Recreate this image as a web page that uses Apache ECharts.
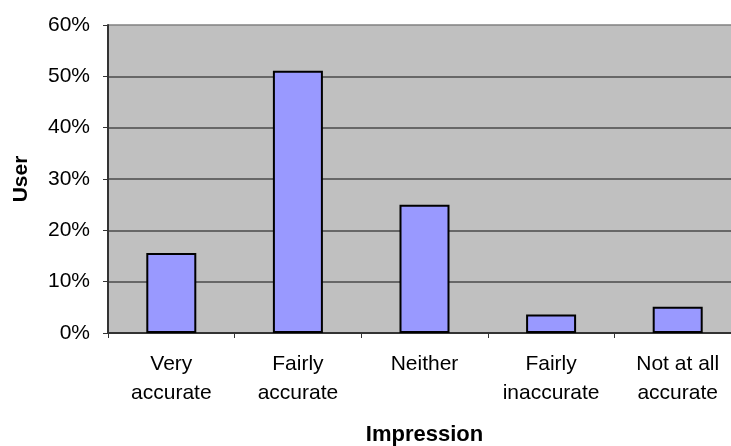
<!DOCTYPE html>
<html>
<head>
<meta charset="utf-8">
<script src="https://cdn.jsdelivr.net/npm/echarts@6/dist/echarts.min.js"></script>
<style>
  html, body { margin: 0; padding: 0; background: #ffffff; overflow: hidden; }
  #chart { width: 731px; height: 446px; }
</style>
</head>
<body>
<div id="chart"></div>
<script>
// Impression categories (two-line labels) and share of users, in percent
const categories = ['Very\naccurate', 'Fairly\naccurate', 'Neither', 'Fairly\ninaccurate', 'Not at all\naccurate'];
const userShare = [15.6, 51.1, 25.0, 3.6, 5.1];
const yTicks = { min: 0, max: 60, interval: 10 };

const chart = echarts.init(document.getElementById('chart'), null, { renderer: 'canvas' });

const font = '"Liberation Sans", Arial, sans-serif';

chart.setOption({
  animation: false,
  backgroundColor: '#ffffff',
  // the plot area is a little wider than the canvas and runs off its right edge
  grid: {
    left: 108, top: 25, width: 633, height: 308,
    outerBoundsMode: 'none',
    containLabel: false,
    show: true, backgroundColor: '#c0c0c0', borderWidth: 0
  },
  xAxis: {
    type: 'category',
    data: categories,
    name: 'Impression',
    nameLocation: 'middle',
    nameGap: 91,
    nameTextStyle: { fontFamily: font, fontWeight: 'bold', fontSize: 22, color: '#000' },
    axisLine: { lineStyle: { color: '#333', width: 2 } },
    axisTick: { show: true, length: 5, alignWithLabel: false, lineStyle: { color: '#333', width: 1 } },
    axisLabel: { fontFamily: font, fontSize: 21, color: '#000', lineHeight: 29, margin: 17, interval: 0 },
    splitLine: { show: false }
  },
  yAxis: {
    type: 'value',
    min: yTicks.min, max: yTicks.max, interval: yTicks.interval,
    name: 'User',
    nameLocation: 'middle',
    nameGap: 76,
    nameRotate: 90,
    nameTextStyle: { fontFamily: font, fontWeight: 'bold', fontSize: 21, color: '#000' },
    axisLine: { show: true, lineStyle: { color: '#333', width: 2 } },
    axisTick: { show: true, length: 5, lineStyle: { color: '#333', width: 1 } },
    axisLabel: { fontFamily: font, fontSize: 21, color: '#000', margin: 18, formatter: '{value}%' },
    splitLine: {
      show: true,
      lineStyle: {
        color: ['#4a4a4a', '#4a4a4a', '#4a4a4a', '#4a4a4a', '#4a4a4a', '#4a4a4a', '#808080'],
        width: 1.5
      }
    }
  },
  series: [{
    type: 'bar',
    data: userShare,
    barWidth: 50,
    itemStyle: { color: '#9999ff', borderColor: '#000', borderWidth: 2 },
    emphasis: { disabled: true }
  }]
});
</script>
</body>
</html>
